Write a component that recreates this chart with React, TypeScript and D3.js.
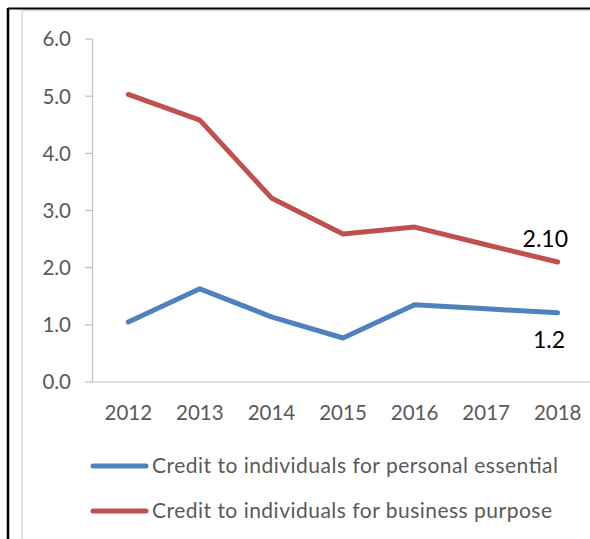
import React from "react";
import * as d3 from "d3";

const years = ["2012", "2013", "2014", "2015", "2016", "2017", "2018"];
const personal = [1.05, 1.63, 1.14, 0.77, 1.35, 1.28, 1.21];
const business = [5.03, 4.58, 3.22, 2.59, 2.71, 2.4, 2.1];
const yTicks = [0, 1, 2, 3, 4, 5, 6];
const seriesNames = [
  "Credit to individuals for personal essential",
  "Credit to individuals for business purpose",
];
const colors = ["#4F81BD", "#C0504D"];
const endLabels = ["1.2", "2.10"];

export default function App() {
  const W = 590, H = 539;
  const x = d3.scaleBand<string>().domain(years).range([92.5, 593.5]);
  const y = d3.scaleLinear().domain([0, 6]).range([382, 39]);
  const cx = (d: string) => (x(d) as number) + x.bandwidth() / 2;
  const line = d3
    .line<number>()
    .x((_, i) => cx(years[i]))
    .y((v) => y(v));
  const series = [personal, business];
  const font = "Lato, 'Open Sans', sans-serif";
  const legendWidths = [406, 400];
  return (
    <svg
      width={W}
      height={H}
      style={{ position: "absolute", left: 0, top: 0, background: "#fff" }}
    >
      <rect x={0} y={0} width={W} height={H} fill="#fff" />
      {/* outer frame */}
      <line x1={22} x2={22} y1={10} y2={H} stroke="#D9D9D9" strokeWidth={1.5} />
      <line x1={22} x2={W} y1={10.5} y2={10.5} stroke="#D9D9D9" strokeWidth={1.5} />
      <line x1={8} x2={8} y1={8} y2={H} stroke="#000" strokeWidth={2.5} />
      <line x1={8} x2={W} y1={8.5} y2={8.5} stroke="#000" strokeWidth={2} />
      {/* y axis */}
      <line x1={92.5} x2={92.5} y1={y(6)} y2={y(0)} stroke="#BFBFBF" strokeWidth={1.2} />
      {yTicks.map((t) => (
        <g key={t}>
          <line x1={85} x2={92.5} y1={y(t)} y2={y(t)} stroke="#BFBFBF" strokeWidth={1.2} />
          <text
            x={71}
            y={y(t)}
            dy="0.36em"
            textAnchor="end"
            fontFamily={font}
            fontSize={20.5}
            fill="#595959"
          >
            {t.toFixed(1)}
          </text>
        </g>
      ))}
      {/* x axis */}
      <line x1={85} x2={W} y1={y(0)} y2={y(0)} stroke="#D9D9D9" strokeWidth={1.5} />
      {years.map((yr) => (
        <text
          key={yr}
          x={cx(yr)}
          y={420}
          textAnchor="middle"
          fontFamily={font}
          fontSize={20.5}
          fill="#595959"
        >
          {yr}
        </text>
      ))}
      {/* lines */}
      {series.map((s, i) => (
        <path
          key={i}
          d={line(s) as string}
          fill="none"
          stroke={colors[i]}
          strokeWidth={5}
          strokeLinecap="round"
          strokeLinejoin="round"
        />
      ))}
      {/* end labels */}
      <text x={565} y={348} textAnchor="end" fontFamily={font} fontSize={23} fill="#000">
        {endLabels[0]}
      </text>
      <text x={568} y={247} textAnchor="end" fontFamily={font} fontSize={23} fill="#000">
        {endLabels[1]}
      </text>
      {/* legend */}
      {seriesNames.map((n, i) => {
        const ly = 466 + i * 45;
        return (
          <g key={n}>
            <line
              x1={93}
              x2={146}
              y1={ly}
              y2={ly}
              stroke={colors[i]}
              strokeWidth={5}
              strokeLinecap="round"
            />
            <text
              x={152}
              y={ly + 7}
              fontFamily={font}
              fontSize={21}
              fill="#595959"
              textLength={legendWidths[i]}
              lengthAdjust="spacing"
            >
              {n}
            </text>
          </g>
        );
      })}
    </svg>
  );
}
